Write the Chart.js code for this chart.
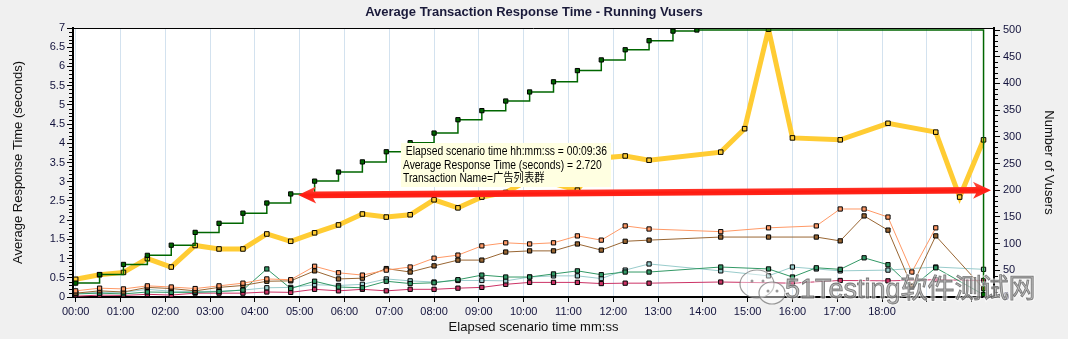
<!DOCTYPE html>
<html>
<head>
<meta charset="utf-8">
<script src="https://cdn.jsdelivr.net/npm/chart.js@4.4.0/dist/chart.umd.min.js"></script>
<style>
  html, body { margin: 0; padding: 0; background: #f0f0f0; }
  #wrap { width: 1068px; height: 339px; }
</style>
</head>
<body>
<div id="wrap"><canvas id="chart" width="1068" height="339"></canvas></div>
<script>
const STEP = 32; // seconds between samples
const seq = (a, b) => Array.from({ length: b - a + 1 }, (_, k) => a + k);

// running vusers (right axis)
const vuserIdx = [...seq(0, 26), 38];
const vusers = [26, 42, 61, 78, 97, 121, 138, 157, 176, 193, 217, 234, 253, 272, 289, 307,
  332, 349, 367, 384, 403, 424, 444, 463, 480, 498, 500, 5];

// 广告列表群 - average response time (seconds)
const adIdx = [...seq(0, 24), 27, 28, 29, 30, 32, 34, 36, 37, 38];
const adTime = [0.46, 0.58, 0.64, 1.00, 0.78, 1.34, 1.25, 1.25, 1.64, 1.45, 1.67, 1.875, 2.16,
  2.08, 2.14, 2.53, 2.32, 2.60, 2.72, 3.05, 2.95, 2.78, 3.62, 3.67, 3.56, 3.77, 4.38, 6.97,
  4.14, 4.09, 4.52, 4.29, 2.60, 4.09];

// other transactions
const orangeIdx = [...seq(0, 24), 27, 29, 31, 32, 33, 34, 35, 36];
const orangeTime = [0.16, 0.23, 0.21, 0.29, 0.26, 0.22, 0.29, 0.36, 0.47, 0.45, 0.80, 0.63, 0.57,
  0.70, 0.78, 1.01, 1.09, 1.33, 1.41, 1.38, 1.41, 1.59, 1.48, 1.85, 1.77, 1.70, 1.80, 1.85,
  2.29, 2.29, 2.08, 0.65, 1.80];

const brownIdx = [...seq(0, 24), 27, 29, 31, 32, 33, 34, 35, 36, 38];
const brownTime = [0.10, 0.16, 0.13, 0.25, 0.22, 0.16, 0.25, 0.30, 0.41, 0.42, 0.68, 0.47, 0.49,
  0.74, 0.65, 0.81, 0.96, 0.96, 1.17, 1.20, 1.20, 1.38, 1.22, 1.45, 1.48, 1.56, 1.56, 1.56,
  1.46, 2.11, 1.74, 0.28, 1.59, 0.22];

const greenIdx = [...seq(0, 24), 27, 29, 30, 31, 32, 33, 34, 35, 36, 38];
const greenTime = [0.08, 0.10, 0.08, 0.13, 0.12, 0.12, 0.14, 0.18, 0.73, 0.22, 0.41, 0.26, 0.24,
  0.41, 0.35, 0.37, 0.45, 0.57, 0.52, 0.52, 0.60, 0.68, 0.58, 0.65, 0.65, 0.78, 0.73, 0.52,
  0.76, 0.72, 1.02, 0.84, 0.25, 0.76, 0.06];

const tealIdx = [...seq(0, 24), 27, 29, 30, 31, 32, 34, 36, 38];
const tealTime = [0.10, 0.12, 0.12, 0.20, 0.15, 0.14, 0.15, 0.18, 0.24, 0.25, 0.32, 0.30, 0.33,
  0.47, 0.42, 0.39, 0.43, 0.43, 0.42, 0.52, 0.55, 0.55, 0.48, 0.70, 0.86, 0.68, 0.55, 0.78,
  0.73, 0.68, 0.70, 0.78, 0.72];

const crimsonIdx = [...seq(0, 24), 27, 30, 32, 34, 36, 38];
const crimsonTime = [0.02, 0.05, 0.04, 0.07, 0.05, 0.10, 0.10, 0.10, 0.13, 0.12, 0.20, 0.16, 0.20,
  0.16, 0.20, 0.20, 0.23, 0.25, 0.33, 0.38, 0.38, 0.38, 0.35, 0.36, 0.36, 0.39, 0.36, 0.43,
  0.42, 0.45, 0.43];

const minuteTicks = seq(0, 20);
const labelledMinutes = 18;
const vuserTicks = seq(0, 10).map(k => k * 50);

// hover note shown on the 00:09:36 sample
const noteSample = 18;
const noteTxName = '广告列表群';

// annotation arrow, on the vusers scale (seconds, vusers)
const arrowFrom = { x: 298, v: 191 };
const arrowTo = { x: 1226, v: 200 };

const pts = (idx, vals) => idx.map((k, j) => ({ x: k * STEP, y: vals[j] }));
const pad2 = n => String(n).padStart(2, '0');
const hms = s => pad2(Math.floor(s / 3600)) + ':' + pad2(Math.floor(s / 60) % 60) + ':' + pad2(s % 60);

const FONT = '"Liberation Sans", Arial, "Noto Sans CJK SC", sans-serif';
const TICK_COLOR = '#12123c';

function line(label, data, color, extra) {
  return Object.assign({
    label, data, borderColor: color, backgroundColor: color,
    borderWidth: 1, tension: 0, yAxisID: 'y',
    pointStyle: 'rect', pointRadius: 3, pointBackgroundColor: color,
    pointBorderColor: '#000', pointBorderWidth: 1
  }, extra || {});
}

const decor = {
  id: 'decor',
  beforeDraw(chart) {
    const { ctx, chartArea: a } = chart;
    ctx.save();
    ctx.fillStyle = '#f0f0f0';
    ctx.fillRect(0, 0, chart.width, chart.height);
    ctx.fillStyle = '#fff';
    ctx.fillRect(a.left, a.top, a.right - a.left, a.bottom - a.top);
    ctx.restore();
  },
  afterDraw(chart) {
    const { ctx, chartArea: a, scales } = chart;
    const ys = scales.y, yr = scales.y1, xs = scales.x;
    ctx.save();
    // frame top
    ctx.strokeStyle = '#000';
    ctx.lineWidth = 1;
    ctx.beginPath();
    ctx.moveTo(a.left, a.top + 0.5);
    ctx.lineTo(a.right, a.top + 0.5);
    ctx.stroke();
    // minor ticks
    ctx.beginPath();
    for (let k = 0; k <= 70; k++) {
      if (k % 5 === 0) continue;
      const py = Math.round(ys.getPixelForValue(k / 10)) + 0.5;
      ctx.moveTo(a.left - 4, py); ctx.lineTo(a.left, py);
    }
    for (let k = 0; k <= 500; k += 10) {
      if (k % 50 === 0) continue;
      const py = Math.round(yr.getPixelForValue(k)) + 0.5;
      ctx.moveTo(a.right, py); ctx.lineTo(a.right + 4, py);
    }
    ctx.stroke();

    // hover note
    const sec = noteSample * STEP;
    const val = adTime[adIdx.indexOf(noteSample)];
    const px = xs.getPixelForValue(sec), py = ys.getPixelForValue(val);
    const bx = Math.round(px - 105), by = Math.round(py - 49);
    ctx.fillStyle = '#ffffe1';
    ctx.fillRect(bx, by, 210, 44);
    ctx.fillStyle = '#000';
    ctx.font = '12px ' + FONT;
    ctx.textBaseline = 'middle';
    ctx.textAlign = 'left';
    ctx.save();
    ctx.translate(bx + 2, by);
    ctx.scale(0.86, 1);
    ctx.fillText(' Elapsed scenario time hh:mm:ss = ' + hms(sec), 0, 9);
    ctx.fillText('Average Response Time (seconds) = ' + val.toFixed(3), 0, 22.5);
    ctx.fillText('Transaction Name=' + noteTxName, 0, 36);
    ctx.restore();

    // red arrow
    const x0 = xs.getPixelForValue(arrowFrom.x), y0 = yr.getPixelForValue(arrowFrom.v);
    const x1 = xs.getPixelForValue(arrowTo.x), y1 = yr.getPixelForValue(arrowTo.v);
    const ang = Math.atan2(y1 - y0, x1 - x0);
    const len = Math.hypot(x1 - x0, y1 - y0);
    ctx.translate(x0, y0);
    ctx.rotate(ang);
    const hl = 18, hw = 8.5, sw = 3.3;
    ctx.beginPath();
    ctx.moveTo(0, 0);
    ctx.lineTo(hl, -hw);
    ctx.lineTo(hl - 3, -sw);
    ctx.lineTo(len - hl + 3, -sw);
    ctx.lineTo(len - hl, -hw);
    ctx.lineTo(len, 0);
    ctx.lineTo(len - hl, hw);
    ctx.lineTo(len - hl + 3, sw);
    ctx.lineTo(hl - 3, sw);
    ctx.lineTo(hl, hw);
    ctx.closePath();
    const g = ctx.createLinearGradient(0, -hw, 0, hw);
    g.addColorStop(0, '#ff5a4a');
    g.addColorStop(0.5, '#ff1a10');
    g.addColorStop(1, '#ff3a2c');
    ctx.fillStyle = g;
    ctx.fill();
    ctx.restore();

    // watermark
    ctx.save();
    ctx.globalAlpha = 0.75;
    ctx.lineWidth = 1.2;
    ctx.strokeStyle = '#777';
    ctx.fillStyle = 'rgba(255,255,255,0.6)';
    ctx.beginPath();
    ctx.ellipse(757, 284, 17, 14, 0, 0, Math.PI * 2);
    ctx.fill(); ctx.stroke();
    ctx.beginPath();
    ctx.ellipse(772, 293, 13, 11, 0, 0, Math.PI * 2);
    ctx.fill(); ctx.stroke();
    ctx.fillStyle = '#777';
    [[752, 281], [763, 281], [768, 291], [777, 291]].forEach(([cx, cy]) => {
      ctx.beginPath(); ctx.arc(cx, cy, 1.5, 0, Math.PI * 2); ctx.fill();
    });
    ctx.font = '27px ' + FONT;
    ctx.textBaseline = 'alphabetic';
    ctx.lineWidth = 3;
    ctx.strokeStyle = 'rgba(255,255,255,0.8)';
    ctx.strokeText('51Testing软件测试网', 785, 298);
    ctx.fillStyle = 'rgba(150,150,150,0.85)';
    ctx.fillText('51Testing软件测试网', 785, 298);
    ctx.lineWidth = 0.8;
    ctx.strokeStyle = 'rgba(70,70,70,0.9)';
    ctx.strokeText('51Testing软件测试网', 785, 298);
    ctx.restore();
  }
};

new Chart(document.getElementById('chart'), {
  type: 'line',
  data: {
    datasets: [
      line('Running Vusers', pts(vuserIdx, vusers), '#006600',
        { yAxisID: 'y1', stepped: 'before', borderWidth: 1.5 }),
      line(noteTxName, pts(adIdx, adTime), '#ffcc33',
        { borderWidth: 5, pointRadius: 3.2, pointBackgroundColor: '#ffcc33' }),
      line('tx1', pts(orangeIdx, orangeTime), '#ff9966'),
      line('tx2', pts(brownIdx, brownTime), '#996633'),
      line('tx3', pts(greenIdx, greenTime), '#339966'),
      line('tx4', pts(tealIdx, tealTime), '#99cccc'),
      line('tx5', pts(crimsonIdx, crimsonTime), '#cc3366')
    ]
  },
  options: {
    responsive: false,
    animation: false,
    events: [],
    layout: { padding: 0 },
    plugins: {
      legend: { display: false },
      tooltip: { enabled: false },
      title: {
        display: true,
        text: 'Average Transaction Response Time - Running Vusers',
        color: '#1a1a3a',
        font: { family: FONT, size: 13, weight: 'bold' },
        padding: { top: 5, bottom: 7.4 }
      }
    },
    scales: {
      x: {
        type: 'linear',
        min: -3.6,
        max: 1230,
        afterBuildTicks: s => { s.ticks = minuteTicks.map(m => ({ value: m * 60 })); },
        afterFit: s => { s.height = 42; },
        ticks: {
          autoSkip: false, maxRotation: 0, padding: 3,
          color: TICK_COLOR,
          font: { family: FONT, size: 11 },
          callback: v => (v / 60 <= labelledMinutes ? pad2(v / 60) + ':00' : '')
        },
        grid: { color: '#d3e2ef', tickColor: '#000', tickLength: 5 },
        border: { color: '#000', width: 2 },
        title: {
          display: true, text: 'Elapsed scenario time mm:ss', color: '#111',
          font: { family: FONT, size: 13 }, padding: { top: 0, bottom: 4 }
        }
      },
      y: {
        position: 'left',
        min: 0, max: 7,
        afterFit: s => { s.width = 73; },
        ticks: {
          stepSize: 0.5, padding: 2, color: TICK_COLOR,
          font: { family: FONT, size: 11 },
          callback: v => String(v)
        },
        grid: { drawOnChartArea: false, tickColor: '#000', tickLength: 6 },
        border: { color: '#000', width: 2 },
        title: {
          display: true, text: 'Average Response Time (seconds)', color: '#111',
          font: { family: FONT, size: 13 }, padding: { top: 11 }
        }
      },
      y1: {
        position: 'right',
        min: 0, max: 503.75,
        afterFit: s => { s.width = 74; },
        afterBuildTicks: s => { s.ticks = vuserTicks.map(v => ({ value: v })); },
        ticks: {
          padding: 3, color: TICK_COLOR,
          font: { family: FONT, size: 11 }
        },
        grid: { drawOnChartArea: false, tickColor: '#000', tickLength: 6 },
        border: { color: '#000', width: 2 },
        title: {
          display: true, text: 'Number of Vusers', color: '#111',
          font: { family: FONT, size: 13 }, padding: { top: 12 }
        }
      }
    }
  },
  plugins: [decor]
});
</script>
</body>
</html>
